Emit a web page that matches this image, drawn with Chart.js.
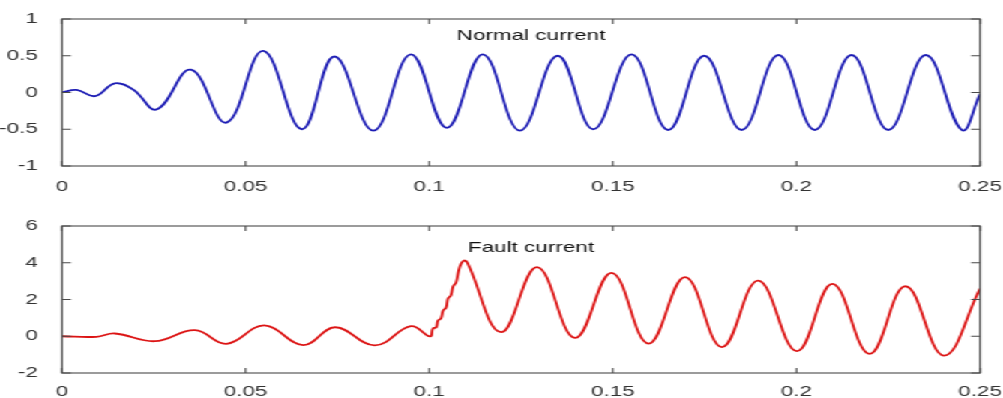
<!DOCTYPE html>
<html>
<head>
<meta charset="utf-8">
<script src="https://cdn.jsdelivr.net/npm/chart.js@4.4.1/dist/chart.umd.min.js"></script>
<style>
  html, body { margin: 0; padding: 0; background: #fff; overflow: hidden; }
  #wrap { position: absolute; left: 0; top: 0; width: 669px; transform: scaleX(1.49925); transform-origin: 0 0; }
  canvas { display: block; }
</style>
</head>
<body>
<div id="wrap">
  <canvas id="normal" width="669" height="199"></canvas>
  <canvas id="fault" width="669" height="199"></canvas>
</div>
<script>
// time axis (s) and tick labels
const xTicks = [0, 0.05, 0.1, 0.15, 0.2, 0.25];
const xTickLabels = ['0', '0.05', '0.1', '0.15', '0.2', '0.25'];

// top plot: normal current (peaks / troughs)
const normalTitle = 'Normal current';
const normalYTicks = [-1, -0.5, 0, 0.5, 1];
const normalYLabels = ['-1', '-0.5', '0', '0.5', '1'];
const normalT = [0, 0.004, 0.009, 0.0144, 0.0194, 0.0258, 0.0351, 0.0448, 0.0548, 0.0653,
  0.0742, 0.0848, 0.095, 0.1048, 0.1146, 0.1247, 0.135, 0.1447, 0.1551, 0.1651,
  0.1749, 0.1851, 0.1951, 0.205, 0.215, 0.225, 0.2352, 0.245, 0.25];
const normalI = [0, 0.035, -0.05, 0.125, 0.04, -0.23, 0.31, -0.41, 0.565, -0.50,
  0.49, -0.52, 0.52, -0.48, 0.52, -0.52, 0.50, -0.50, 0.52, -0.51,
  0.50, -0.51, 0.51, -0.51, 0.51, -0.51, 0.51, -0.51, -0.02];

// bottom plot: fault current (stepped rise after the fault at 0.1 s)
const faultTitle = 'Fault current';
const faultYTicks = [-2, 0, 2, 4, 6];
const faultYLabels = ['-2', '0', '2', '4', '6'];
const faultT = [0, 0.0094, 0.0144, 0.0253, 0.0362, 0.0448, 0.0551, 0.0657, 0.0744, 0.0852,
  0.095, 0.1002, 0.1010, 0.1019, 0.1024, 0.1032, 0.1038, 0.1046, 0.1051, 0.1059,
  0.1065, 0.1073, 0.1080, 0.1087, 0.1095, 0.1104, 0.1196, 0.1294, 0.1397, 0.1497,
  0.1597, 0.1697, 0.1797, 0.1896, 0.2001, 0.2098, 0.2199, 0.2297, 0.2401, 0.2500];
const faultI = [0, -0.03, 0.15, -0.27, 0.33, -0.41, 0.59, -0.48, 0.49, -0.50,
  0.55, -0.01, 0.42, 0.48, 0.86, 0.97, 1.40, 1.56, 2.05, 2.22,
  2.71, 2.92, 3.55, 3.95, 4.12, 4.00, 0.22, 3.76, -0.09, 3.45,
  -0.40, 3.22, -0.59, 3.03, -0.81, 2.85, -0.96, 2.72, -1.05, 2.60];

const FONT = { family: '"Liberation Sans", Arial, sans-serif', size: 15 };

// matlab style box with inward ticks on all sides, plus the in-axes title
const matlabAxes = {
  id: 'matlabAxes',
  afterDatasetsDraw(chart, args, opts) {
    const { ctx, chartArea: a, scales: { x, y } } = chart;
    ctx.save();
    ctx.strokeStyle = '#4a4a4a';
    ctx.lineWidth = 1.1;
    ctx.strokeRect(a.left, a.top, a.right - a.left, a.bottom - a.top);
    ctx.beginPath();
    x.ticks.forEach(t => {
      const px = x.getPixelForValue(t.value);
      ctx.moveTo(px, a.top); ctx.lineTo(px, a.top + 5);
      ctx.moveTo(px, a.bottom); ctx.lineTo(px, a.bottom - 5);
    });
    y.ticks.forEach(t => {
      const py = y.getPixelForValue(t.value);
      ctx.moveTo(a.left, py); ctx.lineTo(a.left + 6, py);
      ctx.moveTo(a.right, py); ctx.lineTo(a.right - 6, py);
    });
    ctx.stroke();
    ctx.fillStyle = '#111';
    ctx.font = '15px ' + FONT.family;
    ctx.textAlign = 'center';
    ctx.textBaseline = 'middle';
    ctx.fillText(opts.text, (a.left + a.right) / 2 + opts.dx, a.top + opts.dy);
    ctx.restore();
  }
};

function makeChart(id, ts, vals, color, yTicks, yLabels, title, xAxisH, padTop, titleDy, xPad) {
  const pts = ts.map((t, i) => ({ x: t, y: vals[i] }));
  return new Chart(document.getElementById(id), {
    type: 'line',
    data: {
      datasets: [{
        data: pts,
        borderColor: color,
        borderWidth: 1.8,
        pointRadius: 0,
        tension: 0.4,
        fill: false
      }]
    },
    options: {
      responsive: false,
      animation: false,
      events: [],
      layout: { padding: { top: padTop, left: 0, right: 15.34, bottom: 0 } },
      plugins: {
        legend: { display: false },
        tooltip: { enabled: false },
        matlabAxes: { text: title, dx: 6.7, dy: titleDy }
      },
      scales: {
        x: {
          type: 'linear',
          min: 0,
          max: 0.25,
          grid: { display: false },
          border: { display: false },
          afterBuildTicks: s => { s.ticks = xTicks.map(v => ({ value: v })); },
          afterFit: s => { s.height = xAxisH; s.paddingLeft = 0; s.paddingRight = 0; },
          ticks: {
            font: FONT,
            color: '#333',
            padding: xPad,
            maxRotation: 0,
            autoSkip: false,
            callback: (v) => xTickLabels[xTicks.indexOf(v)]
          }
        },
        y: {
          min: yTicks[0],
          max: yTicks[yTicks.length - 1],
          grid: { display: false },
          border: { display: false },
          afterBuildTicks: s => { s.ticks = yTicks.map(v => ({ value: v })); },
          afterFit: s => { s.width = 41.35; s.paddingTop = 0; s.paddingBottom = 0; },
          ticks: {
            font: FONT,
            color: '#333',
            padding: 8,
            autoSkip: false,
            callback: (v) => yLabels[yTicks.indexOf(v)]
          }
        }
      }
    },
    plugins: [matlabAxes]
  });
}

makeChart('normal', normalT, normalI, '#1c1cb4', normalYTicks, normalYLabels, normalTitle, 33, 19, 17, 4);
makeChart('fault', faultT, faultI, '#dc1414', faultYTicks, faultYLabels, faultTitle, 25, 27, 22, 2);
</script>
</body>
</html>
